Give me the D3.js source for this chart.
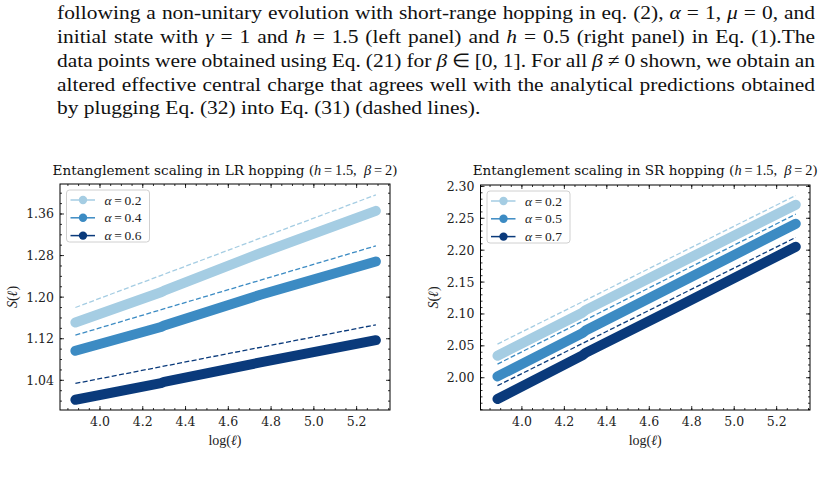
<!DOCTYPE html>
<html><head><meta charset="utf-8">
<script src="https://cdn.jsdelivr.net/npm/d3@7"></script>
<style>body{margin:0;background:#fff}svg{display:block}</style>
</head><body>
<script>
// ---------------- data ----------------
const paragraphLines = [
  "following a non-unitary evolution with short-range hopping in eq. (2), α = 1, μ = 0, and",
  "initial state with γ = 1 and h = 1.5 (left panel) and h = 0.5 (right panel) in Eq. (1).The",
  "data points were obtained using Eq. (21) for β ∈ [0, 1]. For all β ≠ 0 shown, we obtain an",
  "altered effective central charge that agrees well with the analytical predictions obtained",
  "by plugging Eq. (32) into Eq. (31) (dashed lines)."
];
const xPoints = [3.885, 4.285, 4.30, 4.75, 5.29];
const dashX = [3.885, 5.29];

const lrAlphas = ["0.2", "0.4", "0.6"];
const lrValues = [
  [1.1513, 1.2095, 1.2125, 1.2845, 1.3660],
  [1.0968, 1.1425, 1.1455, 1.2045, 1.2686],
  [1.0026, 1.0345, 1.0370, 1.0745, 1.1173]
];
const lrDashed = [
  [1.1801, 1.3968],
  [1.1269, 1.2987],
  [1.0340, 1.1468]
];
const srAlphas = ["0.2", "0.5", "0.7"];
const srValues = [
  [2.0345, 2.1020, 2.1060, 2.1810, 2.2712],
  [2.0021, 2.0700, 2.0740, 2.1500, 2.2414],
  [1.9666, 2.0350, 2.0390, 2.1140, 2.2053]
];
const srDashed = [
  [2.0528, 2.2858],
  [2.0214, 2.2565],
  [1.9875, 2.2200]
];
const xTicks = [4.0, 4.2, 4.4, 4.6, 4.8, 5.0, 5.2];
const lrYTicks = [1.04, 1.12, 1.20, 1.28, 1.36];
const srYTicks = [2.00, 2.05, 2.10, 2.15, 2.20, 2.25, 2.30];
const colors = ["#a5cde3", "#3c8bc3", "#0a3a7b"];

// ---------------- drawing ----------------
const W = 826, H = 479;
const svg = d3.select("body").append("svg").attr("width", W).attr("height", H);
const SERIF = "'DejaVu Serif', serif";
const MATH = "'Liberation Serif', 'Times New Roman', serif";

// paragraph (justified through word spacing)
const pBase = [19, 43, 67, 91, 114];
const pScale = 1.1, pLeft = 57, pWidth = 758;
paragraphLines.forEach((t, i) => {
  const el = svg.append("text")
    .attr("transform", `translate(${pLeft},${pBase[i]}) scale(${pScale},1)`)
    .attr("font-family", MATH).attr("font-size", 19.5).attr("fill", "#111");
  t.split(/(α|μ|γ|β|h(?= =))/).forEach(seg => {
    if (!seg) return;
    const ts = el.append("tspan").text(seg);
    if (/^(α|μ|γ|β|h)$/.test(seg)) ts.attr("font-style", "italic");
  });
  if (i < paragraphLines.length - 1) {
    const nat = el.node().getComputedTextLength();
    const spaces = (t.match(/ /g) || []).length;
    el.attr("word-spacing", (pWidth / pScale - nat) / spaces);
  }
});

function panel(cfg) {
  const g = svg.append("g");
  const x = d3.scaleLinear().domain(cfg.xDomain).range([cfg.left, cfg.right]);
  const y = d3.scaleLinear().domain(cfg.yDomain).range([cfg.bottom, cfg.top]);

  const clipId = "clip" + cfg.id;
  svg.append("clipPath").attr("id", clipId).append("rect")
    .attr("x", cfg.left).attr("y", cfg.top)
    .attr("width", cfg.right - cfg.left).attr("height", cfg.bottom - cfg.top);
  const plot = g.append("g").attr("clip-path", `url(#${clipId})`);

  const line = d3.line().x(d => x(d[0])).y(d => y(d[1]));
  cfg.values.forEach((vals, i) => {
    plot.append("path")
      .datum(xPoints.map((xv, j) => [xv, vals[j]]))
      .attr("d", line).attr("fill", "none")
      .attr("stroke", colors[i]).attr("stroke-width", 10)
      .attr("stroke-linecap", "round").attr("stroke-linejoin", "round");
  });
  cfg.dashed.forEach((vals, i) => {
    plot.append("path")
      .datum(dashX.map((xv, j) => [xv, vals[j]]))
      .attr("d", line).attr("fill", "none")
      .attr("stroke", colors[i]).attr("stroke-width", 1.3)
      .attr("stroke-dasharray", "5,2.4");
  });

  // ticks
  const tk = g.append("g").attr("stroke", "#000").attr("stroke-width", 0.8);
  const majL = 4, minL = 2;
  const xMinor = d3.range(3.85, 5.36, 0.05).filter(v => v > cfg.xDomain[0] && v < cfg.xDomain[1]);
  xMinor.forEach(v => {
    const px = x(v);
    tk.append("line").attr("x1", px).attr("x2", px).attr("y1", cfg.bottom).attr("y2", cfg.bottom - minL);
    tk.append("line").attr("x1", px).attr("x2", px).attr("y1", cfg.top).attr("y2", cfg.top + minL);
  });
  xTicks.forEach(v => {
    const px = x(v);
    tk.append("line").attr("x1", px).attr("x2", px).attr("y1", cfg.bottom).attr("y2", cfg.bottom - majL);
    tk.append("line").attr("x1", px).attr("x2", px).attr("y1", cfg.top).attr("y2", cfg.top + majL);
    g.append("text").attr("x", px).attr("y", cfg.bottom + 15.5)
      .attr("text-anchor", "middle").attr("font-family", SERIF).attr("font-size", 12.5).attr("fill", "#222")
      .text(v.toFixed(1));
  });
  const n0 = Math.ceil(cfg.yDomain[0] / cfg.yMinor), n1 = Math.floor(cfg.yDomain[1] / cfg.yMinor);
  d3.range(n0, n1 + 1).map(k => k * cfg.yMinor).forEach(v => {
    const py = y(v);
    tk.append("line").attr("x1", cfg.left).attr("x2", cfg.left + minL).attr("y1", py).attr("y2", py);
    tk.append("line").attr("x1", cfg.right).attr("x2", cfg.right - minL).attr("y1", py).attr("y2", py);
  });
  cfg.yTicks.forEach(v => {
    const py = y(v);
    tk.append("line").attr("x1", cfg.left).attr("x2", cfg.left + majL).attr("y1", py).attr("y2", py);
    tk.append("line").attr("x1", cfg.right).attr("x2", cfg.right - majL).attr("y1", py).attr("y2", py);
    g.append("text").attr("x", cfg.left - 6).attr("y", py + 4.5)
      .attr("text-anchor", "end").attr("font-family", SERIF).attr("font-size", 12.5).attr("fill", "#222")
      .text(v.toFixed(2));
  });

  // frame
  g.append("rect").attr("x", cfg.left).attr("y", cfg.top)
    .attr("width", cfg.right - cfg.left).attr("height", cfg.bottom - cfg.top)
    .attr("fill", "none").attr("stroke", "#000").attr("stroke-width", 1);

  // title
  const cx = (cfg.left + cfg.right) / 2;
  const t = g.append("text").attr("x", cx).attr("y", 175).attr("text-anchor", "middle")
    .attr("font-family", SERIF).attr("font-size", 13.6).attr("fill", "#111");
  t.append("tspan").text(cfg.title + " (");
  t.append("tspan").attr("font-family", MATH).attr("font-style", "italic").attr("font-size", 14.4).text("h");
  t.append("tspan").attr("font-family", MATH).attr("font-size", 14.4).text("\u2009=\u20091.5,\u2002");
  t.append("tspan").attr("font-family", MATH).attr("font-style", "italic").attr("font-size", 14.4).text("β");
  t.append("tspan").attr("font-family", MATH).attr("font-size", 14.4).text("\u2009=\u20092");
  t.append("tspan").text(")");

  // axis labels
  const xl = g.append("text").attr("x", cx).attr("y", cfg.bottom + 35).attr("text-anchor", "middle")
    .attr("font-family", MATH).attr("font-size", 14).attr("fill", "#222");
  xl.append("tspan").text("log(");
  xl.append("tspan").attr("font-style", "italic").text("ℓ");
  xl.append("tspan").text(")");
  const yc = (cfg.top + cfg.bottom) / 2;
  const yl = g.append("text").attr("transform", `translate(${cfg.left - 43},${yc}) rotate(-90)`)
    .attr("text-anchor", "middle").attr("font-family", MATH).attr("font-size", 14).attr("fill", "#222");
  yl.append("tspan").attr("font-style", "italic").text("S");
  yl.append("tspan").text("(");
  yl.append("tspan").attr("font-style", "italic").text("ℓ");
  yl.append("tspan").text(")");

  // legend
  const lx = cfg.left + 6.5, ly = cfg.top + 6;
  g.append("rect").attr("x", lx).attr("y", ly).attr("width", 83).attr("height", 52)
    .attr("rx", 3).attr("fill", "#fff").attr("fill-opacity", 0.85)
    .attr("stroke", "#d0d0d0").attr("stroke-width", 1);
  cfg.alphas.forEach((a, i) => {
    const ry = ly + 10 + i * 17.8;
    g.append("line").attr("x1", lx + 4).attr("x2", lx + 28.5).attr("y1", ry).attr("y2", ry)
      .attr("stroke", colors[i]).attr("stroke-width", 1.5);
    g.append("circle").attr("cx", lx + 16.5).attr("cy", ry).attr("r", 4.2).attr("fill", colors[i]);
    const tx = g.append("text").attr("x", lx + 38).attr("y", ry + 4.5)
      .attr("font-family", MATH).attr("font-size", 13.5).attr("fill", "#222");
    tx.append("tspan").attr("font-style", "italic").text("α");
    tx.append("tspan").text("\u2009=\u2009" + a);
  });
}

panel({
  id: "lr", left: 60, right: 390, top: 184, bottom: 410,
  xDomain: [3.813, 5.356], yDomain: [0.9829, 1.4177], yMinor: 0.02,
  yTicks: lrYTicks, values: lrValues, dashed: lrDashed, alphas: lrAlphas,
  title: "Entanglement scaling in LR hopping"
});
panel({
  id: "sr", left: 480.5, right: 810, top: 185, bottom: 410,
  xDomain: [3.805, 5.357], yDomain: [1.9494, 2.3022], yMinor: 0.01,
  yTicks: srYTicks, values: srValues, dashed: srDashed, alphas: srAlphas,
  title: "Entanglement scaling in SR hopping"
});
</script>
</body></html>
